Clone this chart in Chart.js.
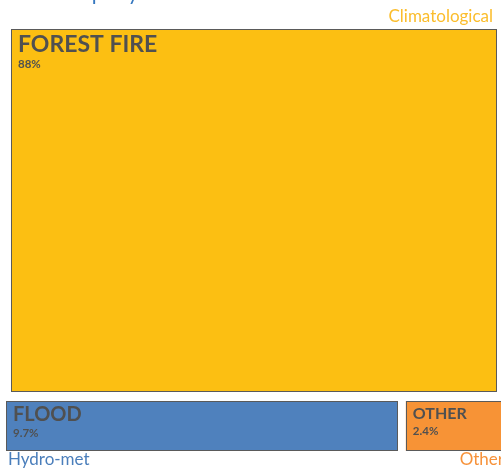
<!DOCTYPE html>
<html>
<head>
<meta charset="utf-8">
<script src="https://cdn.jsdelivr.net/npm/chart.js@4.4.1/dist/chart.umd.min.js"></script>
<style>
  html, body { margin: 0; padding: 0; background: #ffffff; }
  #wrap { position: relative; width: 501px; height: 468px; }
</style>
</head>
<body>
<div id="wrap"><canvas id="treemap"></canvas></div>
<script>
const groups = ["Climatological", "Hydro-met", "Other"];
const hazards = ["FOREST FIRE", "FLOOD", "OTHER"];
const hazardGroup = [0, 1, 2];
const shares = [88, 9.7, 2.4];
// treemap rows: the big group fills the first row, the rest share the second
const groupRow = [0, 1, 1];

const groupColors = ["#fcbf12", "#4f81bd", "#f79336"];
const groupTextColors = ["#fbbd2c", "#4a7ebb", "#f7923a"];
const nameSizes = [23, 20, 16];
const FONT = "Lato, 'Open Sans', sans-serif";
const TEXT = "#505050";
const BORDER = "#5a5a5a";

const total = shares.reduce((a, b) => a + b, 0);

// build cell rectangles in value space: y = cumulative share of rows, x = fraction of row
const buildCells = () => {
  const rows = [];
  groupRow.forEach((row, g) => {
    if (!rows[row]) rows[row] = [];
    rows[row].push(g);
  });

  const cells = [];
  let yStart = 0;
  rows.forEach((rowGroups, r) => {
    const rowTotal = rowGroups.reduce((sum, g) => sum + shares[hazardGroup.indexOf(g)], 0);
    let xStart = 0;
    rowGroups.forEach((g, k) => {
      const i = hazardGroup.indexOf(g);
      const frac = shares[i] / rowTotal;
      cells.push({
        index: i,
        group: g,
        row: r,
        first: k === 0,
        last: k === rowGroups.length - 1,
        x0: xStart,
        x1: xStart + frac,
        y0: yStart,
        y1: yStart + rowTotal
      });
      xStart += frac;
    });
    yStart += rowTotal;
  });
  return cells;
};

const treemapPlugin = {
  id: "treemapCells",
  afterDatasetsDraw(chart) {
    const { ctx, scales } = chart;
    const xs = scales.x;
    const ys = scales.y;

    ctx.save();

    // heading, mostly above the visible area
    ctx.fillStyle = "#3577bf";
    ctx.font = `21px ${FONT}`;
    ctx.textAlign = "left";
    ctx.textBaseline = "alphabetic";
    ctx.fillText("Events per year", 25, 0);

    buildCells().forEach((cell) => {
      let left = xs.getPixelForValue(cell.x0);
      let right = xs.getPixelForValue(cell.x1);
      let top = ys.getPixelForValue(cell.y0);
      let bottom = ys.getPixelForValue(cell.y1);

      if (cell.row === 0) {
        left += 5;
        right -= 4;
        bottom -= 8;
      } else {
        top += 1;
        if (!cell.first) left += 3;
        if (!cell.last) right -= 5;
        else right += 3;
      }

      ctx.fillStyle = groupColors[cell.group];
      ctx.fillRect(left, top, right - left, bottom - top);
      ctx.strokeStyle = BORDER;
      ctx.lineWidth = 1;
      ctx.strokeRect(Math.round(left) + 0.5, Math.round(top) + 0.5,
        Math.round(right - left) - 1, Math.round(bottom - top) - 1);

      const size = nameSizes[cell.index];
      const nameY = top + 6 + size * 0.72;
      ctx.fillStyle = TEXT;
      ctx.textAlign = "left";
      ctx.font = `bold ${size}px ${FONT}`;
      ctx.fillText(hazards[cell.index], left + 7, nameY);
      ctx.font = `bold 11.5px ${FONT}`;
      ctx.fillText(`${shares[cell.index]}%`, left + 7, nameY + 16);

      // group caption: above the first row, below the second
      ctx.fillStyle = groupTextColors[cell.group];
      ctx.font = `17px ${FONT}`;
      if (cell.row === 0) {
        ctx.textAlign = "right";
        ctx.fillText(groups[cell.group], right - 4, top - 7);
      } else {
        ctx.textAlign = cell.first ? "left" : "right";
        ctx.fillText(groups[cell.group], cell.first ? left + 2 : right, bottom + 14);
      }
    });

    ctx.restore();
  }
};

new Chart(document.getElementById("treemap"), {
  type: "scatter",
  data: { datasets: [{ data: [] }] },
  options: {
    responsive: true,
    maintainAspectRatio: false,
    animation: false,
    layout: { padding: { top: 29, left: 6, right: 0, bottom: 17 } },
    scales: {
      x: { type: "linear", min: 0, max: 1, display: false },
      y: { type: "linear", min: 0, max: total, reverse: true, display: false }
    },
    plugins: {
      legend: { display: false },
      tooltip: { enabled: false }
    }
  },
  plugins: [treemapPlugin]
});
</script>
</body>
</html>
